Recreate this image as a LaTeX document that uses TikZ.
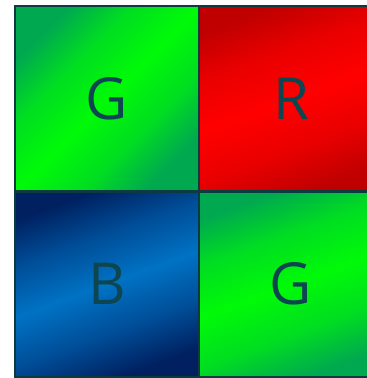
\documentclass[tikz,border=0pt]{standalone}
\usepackage{fontspec}
\setmainfont{Open Sans}
\definecolor{gdark}{HTML}{00A850}
\definecolor{gbright}{HTML}{00FA08}
\definecolor{rdark}{HTML}{C00000}
\definecolor{rbright}{HTML}{FF0000}
\definecolor{bdark}{HTML}{002060}
\definecolor{bbright}{HTML}{0072C4}
\definecolor{edge}{HTML}{0B3A40}
\definecolor{letter}{HTML}{0D4650}
\pgfdeclareverticalshading{gshade}{100bp}{color(0bp)=(gdark); color(25bp)=(gdark); color(37bp)=(gdark!35!gbright); color(50bp)=(gbright); color(63bp)=(gdark!35!gbright); color(75bp)=(gdark); color(100bp)=(gdark)}
\pgfdeclareverticalshading{rshade}{100bp}{color(0bp)=(rdark); color(25bp)=(rdark); color(37bp)=(rdark!35!rbright); color(50bp)=(rbright); color(63bp)=(rdark!35!rbright); color(75bp)=(rdark); color(100bp)=(rdark)}
\pgfdeclareverticalshading{bshade}{100bp}{color(0bp)=(bdark); color(25bp)=(bdark); color(37bp)=(bdark!45!bbright); color(50bp)=(bbright); color(63bp)=(bdark!45!bbright); color(75bp)=(bdark); color(100bp)=(bdark)}
\tikzset{
  cell/.style={rectangle, draw=edge, line width=2.8pt, inner sep=0pt,
    minimum width=184pt, minimum height=185.5pt, text=letter,
    font=\fontsize{58}{58}\selectfont},
  greencell/.style={cell, shading=gshade, shading angle=#1},
  redcell/.style={cell, shading=rshade, shading angle=20},
  bluecell/.style={cell, shading=bshade, shading angle=20}
}
\begin{document}
\begin{tikzpicture}[x=1pt,y=1pt]
\useasboundingbox (0,0) rectangle (367,378);
\clip (0,0) rectangle (367,378);
\node[greencell=45] (tl) at (107,279.25) {G};
\node[redcell]   (tr) at (291,279.25) {R};
\node[bluecell]  (bl) at (107,93.75) {B};
\node[greencell=20] (br) at (291,93.75) {G};
\end{tikzpicture}
\end{document}
